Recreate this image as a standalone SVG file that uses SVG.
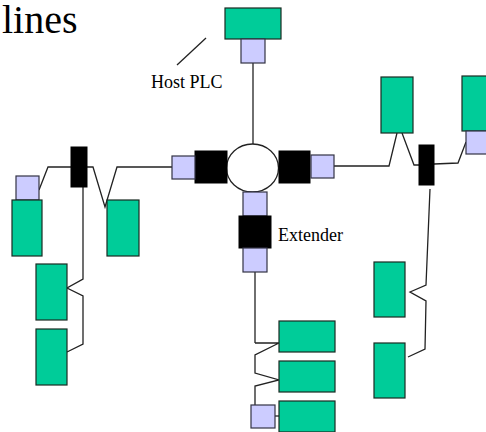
<svg xmlns="http://www.w3.org/2000/svg" width="486" height="432" viewBox="0 0 486 432">
<style>
.g{fill:#00CC99;stroke:#1a2a22;stroke-width:1.2}
.l{fill:#CCCCFF;stroke:#333344;stroke-width:1.2}
.b{fill:#000;stroke:#000;stroke-width:1}
.w{fill:none;stroke:#222;stroke-width:1.3;stroke-linejoin:miter}
.t{font-family:"Liberation Serif","Times New Roman",serif;fill:#000}
</style>
<rect width="486" height="432" fill="#fff"/>
<text class="t" x="2" y="33" font-size="40">lines</text>
<g id="connectors">
<line class="w" x1="253" y1="63" x2="253" y2="144"/>
<line class="w" x1="206" y1="38" x2="177" y2="65"/>
<polyline class="w" points="172,167 117,167 105,207 93,167 87,167"/>
<polyline class="w" points="71,167 48,167 39,190"/>
<polyline class="w" points="83,187 83,279 67,288 83,296 83,344 67,352"/>
<polyline class="w" points="334,166 389,166 397,133"/>
<polyline class="w" points="402,133 414,165 419,165"/>
<polyline class="w" points="434,164 458,163 466,142"/>
<polyline class="w" points="430,189 426,285 410,292 426,301 425,349 408,357"/>
<line class="w" x1="255" y1="272" x2="255" y2="343"/>
<polyline class="w" points="255,343 279,343 255,355 255,373 279,380 255,386 255,405"/>
<line class="w" x1="275" y1="416" x2="279" y2="416"/>
</g>
<g id="host-plc">
<rect class="g" x="225" y="8" width="56" height="31"/>
<rect class="l" x="241" y="39" width="24" height="24"/>
<text class="t" x="151" y="88" font-size="18">Host PLC</text>
</g>
<g id="hub">
<ellipse cx="252.5" cy="168" rx="26" ry="24" fill="#fff" stroke="#222" stroke-width="1.3"/>
</g>
<g id="left-port">
<rect class="b" x="195" y="151" width="32" height="32"/>
<rect class="l" x="172" y="156" width="23" height="23"/>
</g>
<g id="right-port">
<rect class="b" x="279" y="151" width="31" height="32"/>
<rect class="l" x="311" y="155" width="23" height="23"/>
</g>
<g id="extender">
<rect class="l" x="243" y="192" width="24" height="24"/>
<rect class="b" x="239" y="216" width="32" height="32"/>
<rect class="l" x="243" y="248" width="24" height="24"/>
<text class="t" x="278" y="241" font-size="18">Extender</text>
</g>
<g id="left-tap">
<rect class="b" x="71" y="147" width="16" height="40"/>
</g>
<g id="left-node-1">
<rect class="l" x="16" y="176" width="23" height="24"/>
<rect class="g" x="12" y="200" width="30" height="56"/>
</g>
<g id="left-node-2">
<rect class="g" x="107" y="200" width="32" height="56"/>
</g>
<g id="left-node-3">
<rect class="g" x="36" y="264" width="31" height="56"/>
</g>
<g id="left-node-4">
<rect class="g" x="36" y="329" width="31" height="56"/>
</g>
<g id="right-tap">
<rect class="b" x="419" y="145" width="15" height="40"/>
</g>
<g id="right-node-1">
<rect class="g" x="381" y="77" width="32" height="56"/>
</g>
<g id="right-node-2">
<rect class="g" x="462" y="76" width="40" height="55"/>
<rect class="l" x="466" y="131" width="30" height="23"/>
</g>
<g id="right-node-3">
<rect class="g" x="374" y="262" width="31" height="55"/>
</g>
<g id="right-node-4">
<rect class="g" x="374" y="343" width="31" height="55"/>
</g>
<g id="bottom-node-1">
<rect class="g" x="279" y="321" width="56" height="31"/>
</g>
<g id="bottom-node-2">
<rect class="g" x="279" y="361" width="56" height="31"/>
</g>
<g id="bottom-node-3">
<rect class="l" x="251" y="405" width="24" height="23"/>
<rect class="g" x="279" y="401" width="56" height="31"/>
</g>
</svg>
